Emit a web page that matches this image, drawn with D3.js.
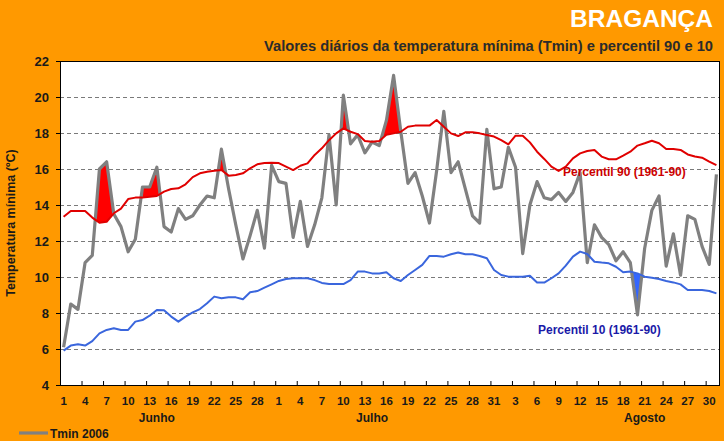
<!DOCTYPE html>
<html><head><meta charset="utf-8">
<script src="https://cdn.jsdelivr.net/npm/d3@7"></script>
<style>
html,body{margin:0;padding:0;background:#FF9900;}
svg{display:block;font-family:"Liberation Sans",Arial,sans-serif;}
</style></head>
<body>
<svg id="c" width="724" height="441"></svg>
<script>
// ---- data ----
const monthNames = ["Junho", "Julho", "Agosto"];
const monthLengths = [30, 31, 31];
const monthLabelDays = [14, 44, 82]; // category index where month label sits
const yTicks = [4, 6, 8, 10, 12, 14, 16, 18, 20, 22];

const tmin2006 = [
  6.1, 8.5, 8.2, 10.8, 11.2, 16.0, 16.4, 13.5, 12.8, 11.4,
  12.1, 15.0, 15.0, 16.1, 12.8, 12.5, 13.8, 13.2, 13.4, 14.0,
  14.5, 14.4, 17.1, 14.9, 12.9, 11.0, 12.3, 13.7, 11.6, 16.2,
  15.3, 15.2, 12.2, 14.2, 11.7, 12.9, 14.4, 17.9, 14.0, 20.1,
  17.4, 17.9, 16.9, 17.5, 17.3, 18.7, 21.2, 18.1, 15.2, 15.8,
  14.5, 13.0, 15.9, 19.2, 15.8, 16.4, 14.9, 13.4, 13.0, 18.2,
  14.9, 15.0, 17.2, 16.1, 11.3, 14.0, 15.3, 14.4, 14.3, 14.7,
  14.2, 14.7, 15.8, 10.8, 12.9, 12.2, 11.8, 10.9, 11.4, 10.8,
  7.9, 11.6, 13.7, 14.5, 10.6, 12.4, 10.1, 13.4, 13.2, 11.7,
  10.7, 15.7
];
const p90 = [
  13.35, 13.67, 13.67, 13.67, 13.3, 13.02, 13.07, 13.54, 13.8, 14.33,
  14.41, 14.41, 14.46, 14.5, 14.74, 14.89, 14.93, 15.15, 15.55, 15.76,
  15.85, 15.9, 15.94, 15.63, 15.67, 15.76, 16.04, 16.26, 16.33, 16.35,
  16.33, 16.13, 15.94, 16.18, 16.31, 16.78, 17.15, 17.6, 17.98, 18.26,
  18.07, 17.94, 17.56, 17.52, 17.56, 17.9, 17.98, 18.07, 18.35, 18.41,
  18.41, 18.41, 18.72, 18.35, 17.98, 17.83, 18.04, 18.04, 17.98, 17.89,
  17.8, 17.6, 17.37, 17.85, 17.85, 17.48, 16.96, 16.56, 16.13, 15.89,
  16.13, 16.59, 16.87, 17.0, 17.06, 16.69, 16.54, 16.54, 16.74, 16.96,
  17.3, 17.43, 17.57, 17.43, 17.11, 17.11, 17.06, 16.81, 16.69, 16.63,
  16.41, 16.22
];
const p10 = [
  5.91, 6.19, 6.26, 6.19, 6.44, 6.87, 7.06, 7.15, 7.06, 7.06,
  7.52, 7.61, 7.85, 8.17, 8.15, 7.8, 7.52, 7.8, 8.03, 8.22,
  8.54, 8.91, 8.82, 8.87, 8.87, 8.76, 9.15, 9.22, 9.41, 9.59,
  9.78, 9.89, 9.93, 9.93, 9.93, 9.83, 9.67, 9.61, 9.61, 9.61,
  9.83, 10.3, 10.3, 10.2, 10.2, 10.26, 9.93, 9.78, 10.11, 10.39,
  10.67, 11.17, 11.17, 11.13, 11.26, 11.36, 11.26, 11.26, 11.17, 11.04,
  10.39, 10.11, 10.02, 10.02, 10.02, 10.07, 9.69, 9.69, 9.93, 10.2,
  10.63, 11.13, 11.41, 11.28, 10.85, 10.8, 10.76, 10.57, 10.26, 10.3,
  10.2, 10.02, 9.96, 9.89, 9.78, 9.7, 9.59, 9.28, 9.28, 9.28,
  9.22, 9.09
];

// categories: index 1..92 with day-of-month label
const categories = [];
monthLengths.forEach((n, m) => { for (let d = 1; d <= n; d++) categories.push({ idx: categories.length + 1, day: d, month: m }); });
const rows = categories.map((c, i) => ({ idx: c.idx, day: c.day, t: tmin2006[i], hi: p90[i], lo: p10[i] }));

// ---- layout ----
const svg = d3.select("#c");
const L = 60, R = 720, T = 61, B = 385;
const x = d3.scaleBand().domain(categories.map(c => c.idx)).range([L, R]).padding(0);
const xc = i => x(i) + x.bandwidth() / 2;
const y = d3.scaleLinear().domain([4, 22]).range([B, T]);

svg.append("rect").attr("width", 724).attr("height", 441).attr("fill", "#FF9900");
svg.append("rect").attr("x", L).attr("y", T).attr("width", R - L).attr("height", B - T).attr("fill", "#fff");

// gridlines
svg.append("g").selectAll("line").data(yTicks.filter(v => v > 4 && v < 22)).join("line")
  .attr("x1", L).attr("x2", R).attr("y1", d => y(d) + 0.5).attr("y2", d => y(d) + 0.5)
  .attr("stroke", "#7a7a7a").attr("stroke-width", 1).attr("stroke-dasharray", "4,3");

// clip paths
const defs = svg.append("defs");
defs.append("clipPath").attr("id", "aboveP90").append("path")
  .attr("d", d3.area().x(d => xc(d.idx)).y0(T - 20).y1(d => y(d.hi))(rows));
defs.append("clipPath").attr("id", "belowP10").append("path")
  .attr("d", d3.area().x(d => xc(d.idx)).y0(B + 20).y1(d => y(d.lo))(rows));

svg.append("path").attr("clip-path", "url(#aboveP90)")
  .attr("d", d3.area().x(d => xc(d.idx)).y0(d => y(d.hi)).y1(d => y(d.t))(rows))
  .attr("fill", "#ff0000");
svg.append("path").attr("clip-path", "url(#belowP10)")
  .attr("d", d3.area().x(d => xc(d.idx)).y0(d => y(d.lo)).y1(d => y(d.t))(rows))
  .attr("fill", "#3366ff");

const line = key => d3.line().x(d => xc(d.idx)).y(d => y(d[key]));
svg.append("path").attr("d", line("t")(rows)).attr("fill", "none")
  .attr("stroke", "#808080").attr("stroke-width", 3.2).attr("stroke-linejoin", "round");
svg.append("path").attr("d", line("hi")(rows)).attr("fill", "none")
  .attr("stroke", "#e00000").attr("stroke-width", 2).attr("stroke-linejoin", "round");
svg.append("path").attr("d", line("lo")(rows)).attr("fill", "none")
  .attr("stroke", "#3a66dd").attr("stroke-width", 2).attr("stroke-linejoin", "round");

// frame
svg.append("rect").attr("x", L + 0.5).attr("y", T + 0.5).attr("width", R - L - 1).attr("height", B - T)
  .attr("fill", "none").attr("stroke", "#000").attr("stroke-width", 1);

// y axis
const yAxis = svg.append("g").attr("transform", `translate(${L},0)`)
  .call(d3.axisLeft(y).tickValues(yTicks).tickSize(4).tickPadding(7));
yAxis.select(".domain").remove();
yAxis.selectAll("text").attr("font-size", 13).attr("font-weight", "bold").attr("fill", "#1a1a1a")
  .attr("font-family", "Liberation Sans, Arial, sans-serif");
yAxis.selectAll("line").attr("stroke", "#000");

// x axis ticks (inside) at every 3rd category boundary
const tickCats = categories.filter((c, i) => i % 3 === 0);
svg.append("g").selectAll("line").data(tickCats.slice(1)).join("line")
  .attr("x1", d => x(d.idx) + 0.5).attr("x2", d => x(d.idx) + 0.5)
  .attr("y1", B).attr("y2", B - 4).attr("stroke", "#000");
svg.append("g").selectAll("text").data(tickCats).join("text")
  .attr("x", d => xc(d.idx)).attr("y", 405).attr("text-anchor", "middle")
  .attr("font-size", 11.5).attr("font-weight", "bold").attr("fill", "#1a1a1a")
  .text(d => d.day);
svg.append("g").selectAll("text").data(monthNames).join("text")
  .attr("x", (d, i) => xc(monthLabelDays[i])).attr("y", 422).attr("text-anchor", "middle")
  .attr("font-size", 12).attr("font-weight", "bold").attr("fill", "#1a1a1a")
  .text(d => d);

// y title
svg.append("text").attr("transform", "translate(15,223) rotate(-90)").attr("text-anchor", "middle")
  .attr("font-size", 12.5).attr("font-weight", "bold").attr("fill", "#1a1a1a")
  .text("Temperatura mínima (ºC)");

// titles
svg.append("text").attr("x", 713).attr("y", 27).attr("text-anchor", "end")
  .attr("font-size", 24.5).attr("font-weight", "bold").attr("fill", "#fff").text("BRAGANÇA");
svg.append("text").attr("x", 713).attr("y", 51).attr("text-anchor", "end")
  .attr("font-size", 14.5).attr("font-weight", "bold").attr("fill", "#2b2b2b")
  .attr("textLength", 449).attr("lengthAdjust", "spacingAndGlyphs")
  .text("Valores diários da temperatura mínima (Tmin) e percentil 90 e 10");

// series labels
svg.append("text").attr("x", 563).attr("y", 176).attr("font-size", 12).attr("font-weight", "bold")
  .attr("fill", "#cc0000").text("Percentil 90 (1961-90)");
svg.append("text").attr("x", 538).attr("y", 334).attr("font-size", 12).attr("font-weight", "bold")
  .attr("fill", "#1a1aa8").text("Percentil 10 (1961-90)");

// legend
svg.append("line").attr("x1", 19).attr("x2", 48).attr("y1", 433).attr("y2", 433)
  .attr("stroke", "#808080").attr("stroke-width", 3.2);
svg.append("text").attr("x", 50).attr("y", 438).attr("font-size", 12).attr("font-weight", "bold")
  .attr("fill", "#1a1a1a").text("Tmin 2006");
</script>
</body></html>
